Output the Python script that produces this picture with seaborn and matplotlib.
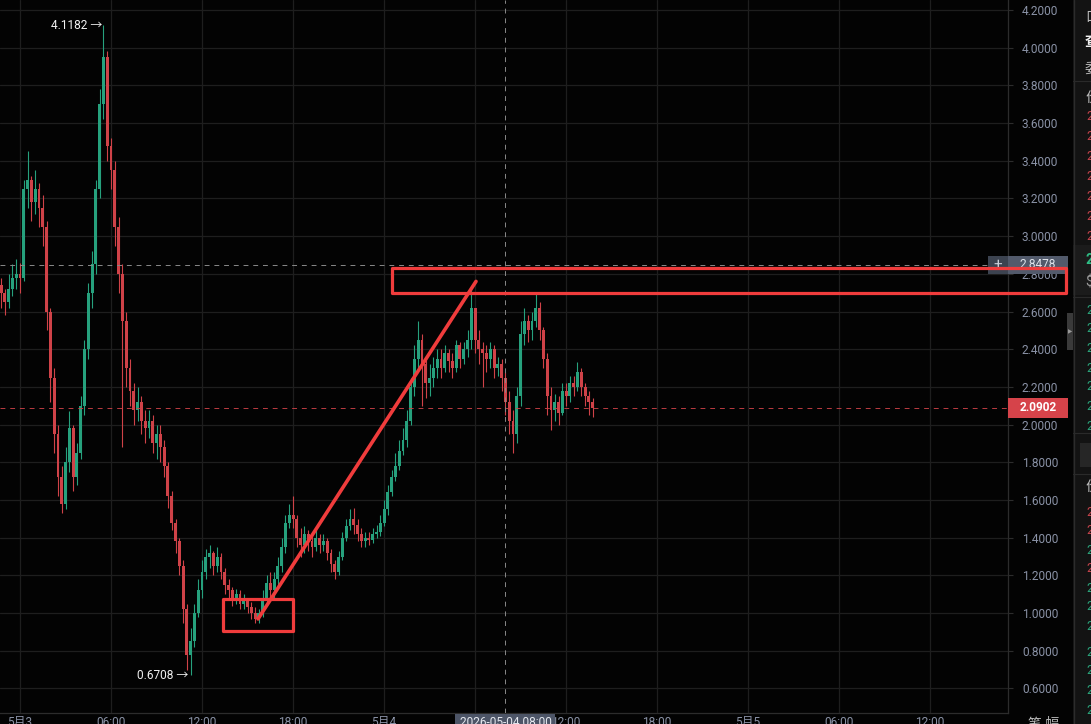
import numpy as np
import matplotlib
matplotlib.use("Agg")
import matplotlib.pyplot as plt
import seaborn as sns
from matplotlib.patches import Rectangle

# 15 minute candles, time in hours from 2026-05-03 00:00
start_hour = -1.25
step_hour = 0.25
first_open = 2.74

closes = [
    2.70, 2.65, 2.72, 2.78, 2.80, 2.78, 3.25, 3.30, 3.18, 3.25,
    3.15, 3.05, 2.60, 2.25, 1.95, 1.72, 1.58, 1.80, 1.98, 1.72,
    1.85, 2.10, 2.40, 2.70, 2.85, 3.25, 3.70, 3.95, 3.48, 3.35,
    3.05, 2.80, 2.55, 2.30, 2.18, 2.08, 2.12, 2.02, 1.98, 2.02,
    1.90, 1.95, 1.88, 1.78, 1.62, 1.48, 1.38, 1.25, 1.02, 0.78,
    0.85, 1.00, 1.12, 1.22, 1.30, 1.32, 1.25, 1.30, 1.22, 1.15,
    1.12, 1.08, 1.10, 1.05, 1.07, 1.03, 1.00, 0.97, 1.00, 1.08,
    1.16, 1.12, 1.18, 1.25, 1.35, 1.48, 1.52, 1.50, 1.40, 1.36,
    1.42, 1.38, 1.35, 1.40, 1.36, 1.38, 1.32, 1.26, 1.22, 1.30,
    1.40, 1.46, 1.50, 1.47, 1.42, 1.38, 1.40, 1.39, 1.42, 1.43,
    1.48, 1.55, 1.64, 1.72, 1.78, 1.86, 1.92, 2.02, 2.20, 2.35,
    2.45, 2.32, 2.22, 2.25, 2.30, 2.35, 2.30, 2.38, 2.34, 2.30,
    2.42, 2.35, 2.40, 2.45, 2.62, 2.45, 2.40, 2.38, 2.35, 2.40,
    2.30, 2.32, 2.25, 2.12, 2.02, 1.95, 2.15, 2.48, 2.55, 2.50,
    2.55, 2.62, 2.50, 2.35, 2.15, 2.08, 2.12, 2.06, 2.18, 2.15,
    2.22, 2.20, 2.28, 2.20, 2.15, 2.12, 2.0902,
]
highs = [
    2.78, 2.72, 2.80, 2.85, 2.88, 2.86, 3.30, 3.45, 3.32, 3.35,
    3.28, 3.22, 3.08, 2.62, 2.30, 2.00, 1.78, 1.88, 2.07, 2.00,
    1.90, 2.15, 2.45, 2.75, 2.92, 3.30, 3.78, 4.1182, 3.98, 3.52,
    3.40, 3.10, 2.85, 2.60, 2.35, 2.22, 2.20, 2.15, 2.08, 2.08,
    2.05, 2.00, 2.00, 1.92, 1.80, 1.65, 1.50, 1.40, 1.28, 1.05,
    0.92, 1.05, 1.18, 1.28, 1.34, 1.36, 1.33, 1.35, 1.32, 1.24,
    1.18, 1.14, 1.13, 1.12, 1.10, 1.08, 1.06, 1.03, 1.02, 1.12,
    1.20, 1.22, 1.22, 1.30, 1.40, 1.52, 1.58, 1.62, 1.52, 1.45,
    1.46, 1.44, 1.42, 1.44, 1.42, 1.42, 1.40, 1.34, 1.28, 1.33,
    1.43, 1.50, 1.55, 1.56, 1.50, 1.45, 1.43, 1.43, 1.45, 1.47,
    1.52, 1.60, 1.68, 1.76, 1.85, 1.92, 1.98, 2.08, 2.25, 2.42,
    2.55, 2.48, 2.36, 2.32, 2.36, 2.40, 2.40, 2.42, 2.40, 2.38,
    2.45, 2.44, 2.44, 2.50, 2.72, 2.62, 2.50, 2.44, 2.42, 2.44,
    2.42, 2.36, 2.35, 2.28, 2.18, 2.08, 2.20, 2.55, 2.62, 2.58,
    2.60, 2.70, 2.65, 2.52, 2.38, 2.20, 2.16, 2.15, 2.22, 2.22,
    2.26, 2.26, 2.33, 2.30, 2.22, 2.18, 2.14,
]
lows = [
    2.62, 2.58, 2.62, 2.68, 2.72, 2.70, 2.76, 3.15, 3.08, 3.12,
    3.05, 2.95, 2.50, 2.12, 1.85, 1.62, 1.53, 1.55, 1.75, 1.65,
    1.68, 1.82, 2.05, 2.35, 2.62, 2.80, 3.20, 3.62, 3.40, 3.25,
    2.95, 2.70, 1.88, 2.20, 2.10, 2.00, 2.02, 1.95, 1.90, 1.93,
    1.85, 1.82, 1.80, 1.72, 1.56, 1.44, 1.32, 1.20, 0.95, 0.70,
    0.6708, 0.82, 0.98, 1.08, 1.18, 1.24, 1.20, 1.22, 1.18, 1.10,
    1.08, 1.04, 1.05, 1.02, 1.02, 1.00, 0.97, 0.95, 0.95, 0.98,
    1.05, 1.08, 1.08, 1.15, 1.22, 1.32, 1.45, 1.45, 1.35, 1.30,
    1.32, 1.33, 1.30, 1.33, 1.32, 1.33, 1.28, 1.22, 1.18, 1.20,
    1.28, 1.38, 1.44, 1.42, 1.38, 1.35, 1.35, 1.36, 1.37, 1.40,
    1.41, 1.46, 1.52, 1.62, 1.70, 1.76, 1.84, 1.88, 2.00, 2.15,
    2.30, 2.10, 2.14, 2.15, 2.20, 2.25, 2.25, 2.28, 2.28, 2.25,
    2.28, 2.30, 2.32, 2.36, 2.40, 2.38, 2.32, 2.20, 2.28, 2.30,
    2.25, 2.26, 2.18, 2.05, 1.95, 1.85, 1.90, 2.10, 2.42, 2.44,
    2.45, 2.52, 2.45, 2.30, 2.05, 1.97, 2.02, 2.00, 2.05, 2.10,
    2.12, 2.15, 2.18, 2.15, 2.10, 2.05, 2.04,
]

price_ticks = [0.6, 0.8, 1.0, 1.2, 1.4, 1.6, 1.8, 2.0, 2.2, 2.4,
               2.6, 2.8, 3.0, 3.2, 3.4, 3.6, 3.8, 4.0, 4.2]
hour_ticks = [0, 6, 12, 18, 24, 30, 36, 42, 48, 54, 60]
# the 06:00 label of 5/4 sits under the crosshair time tag
hour_labels = ['5月3', '06:00', '12:00', '18:00', '5月4', '',
               '12:00', '18:00', '5月5', '06:00', '12:00']

crosshair_hour = 32
crosshair_label = '2026-05-04 08:00'
crosshair_price = 2.8478

# hand drawn red marks
low_box_hours = [13.38, 18.0]
low_box_prices = [0.905, 1.075]
high_box_hours = [24.52, 68.95]
high_box_prices = [2.701, 2.829]
trend_hours = [15.69, 30.06]
trend_prices = [0.969, 2.760]

BG = '#030303'
GRID = '#1e1e1e'
AXIS = '#2c2c2c'
TICK_TXT = '#8a92a6'
UP = '#26a17d'
DOWN = '#cf4248'
MARK = '#f03c3c'

sns.set_theme(style="dark", rc={"axes.facecolor": BG, "figure.facecolor": BG})
plt.rcParams['font.family'] = ['Roboto', 'Noto Sans CJK SC', 'DejaVu Sans']

W, H = 1091, 724
fig = plt.figure(figsize=(W / 100, H / 100), dpi=100)
ax = fig.add_axes([0, 11 / H, 1008 / W, 713 / H])
ax.set_facecolor(BG)

closes = np.array(closes)
opens = np.concatenate([[first_open], closes[:-1]])
hours = start_hour + step_hour * np.arange(len(closes))
top = np.maximum(opens, closes)
bot = np.minimum(opens, closes)
hi = np.maximum(np.array(highs), top)
lo = np.minimum(np.array(lows), bot)
colors = [UP if c >= o else DOWN for o, c in zip(opens, closes)]

ax.vlines(hours, lo, hi, colors=colors, linewidth=0.8, zorder=3)
ax.bar(hours, np.maximum(top - bot, 0.006), bottom=bot, width=0.19,
       color=colors, linewidth=0, zorder=3)

ax.set_xlim(-1.32, 65.13)
ax.set_ylim(0.47, 4.253)

ax.set_xticks(hour_ticks)
ax.set_xticklabels(hour_labels)
ax.set_yticks(price_ticks)
ax.set_yticklabels([f'{p:.4f}' for p in price_ticks])
ax.yaxis.tick_right()
ax.tick_params(axis='y', length=3.5, width=0.8, pad=6.5, color=AXIS,
               labelcolor=TICK_TXT, labelsize=8.6)
ax.tick_params(axis='x', length=0, pad=2.2, labelcolor=TICK_TXT, labelsize=8.6)
ax.grid(True, color=GRID, linewidth=0.9)
ax.set_axisbelow(True)
for side in ['top', 'left']:
    ax.spines[side].set_visible(False)
for side in ['right', 'bottom']:
    ax.spines[side].set_color(AXIS)
    ax.spines[side].set_linewidth(0.9)

# crosshair and last price lines
ax.axhline(crosshair_price, color='#8a8a8a', lw=0.7, ls=(0, (5, 5)), zorder=4)
ax.axvline(crosshair_hour, color='#8a8a8a', lw=0.7, ls=(0, (5, 5)), zorder=4)
last_price = closes[-1]
ax.axhline(last_price, color=DOWN, lw=0.7, ls=(0, (5, 5)), alpha=0.9, zorder=4)

# max / min labels
imax = int(np.argmax(hi))
imin = int(np.argmin(lo))
ax.text(hours[imax] - 0.1, hi[imax], f'{hi[imax]:.4f} →', ha='right', va='center',
        color='#f2f2f2', fontsize=8.6, zorder=6)
ax.text(hours[imin] - 0.15, lo[imin], f'{lo[imin]:.4f} →', ha='right', va='center',
        color='#f2f2f2', fontsize=8.6, zorder=6)

# price tags on the right axis
ytr = ax.get_yaxis_transform()
px = 1 / 1008
tag_h = 18 / 188.2
ax.add_patch(Rectangle((1 - 20 * px, crosshair_price - tag_h / 2), 20 * px, tag_h,
                       transform=ytr, clip_on=False, color='#3c4350', lw=0, zorder=5))
ax.text(1 - 10 * px, crosshair_price, '+', transform=ytr, ha='center', va='center',
        color='#c9ced8', fontsize=11, zorder=6, clip_on=False)
ax.add_patch(Rectangle((1, crosshair_price - tag_h / 2), 60 * px, tag_h,
                       transform=ytr, clip_on=False, color='#525a6b', lw=0, zorder=5))
ax.text(1 + 12 * px, crosshair_price, f'{crosshair_price:.4f}', transform=ytr,
        ha='left', va='center', color='#dfe3ea', fontsize=8.6, zorder=6, clip_on=False)
ax.add_patch(Rectangle((1, last_price - 20 / 188.2 / 2), 60 * px, 20 / 188.2,
                       transform=ytr, clip_on=False, color='#d6434a', lw=0, zorder=5))
ax.text(1 + 12 * px, last_price, f'{last_price:.4f}', transform=ytr, ha='left',
        va='center', color='white', fontsize=8.6, fontweight='bold', zorder=6,
        clip_on=False)

# crosshair time tag at the bottom
xtr = ax.get_xaxis_transform()
ax.add_patch(Rectangle((crosshair_hour - 3.3, -0.03), 6.6, 0.0285, transform=xtr,
                       clip_on=False, color='#4d5567', lw=0, zorder=5))
ax.text(crosshair_hour, -0.0045, crosshair_label, transform=xtr, ha='center',
        va='top', color='#e4e7ee', fontsize=8.6, zorder=6, clip_on=False)

# collapse handle
ax.add_patch(Rectangle((1067 * px, 0.509), 6 * px, 0.052, transform=ax.transAxes,
                       clip_on=False, color='#3a3a3a', lw=0, zorder=5))
ax.text(1070 * px, 0.535, '▶', transform=ax.transAxes, ha='center', va='center',
        color='#9a9a9a', fontsize=4, zorder=6, clip_on=False, family='DejaVu Sans')

# red hand drawn annotations
ax.add_patch(Rectangle((low_box_hours[0], low_box_prices[0]),
                       low_box_hours[1] - low_box_hours[0],
                       low_box_prices[1] - low_box_prices[0],
                       fill=False, ec=MARK, lw=2.3, joinstyle='round', zorder=8))
ax.add_patch(Rectangle((high_box_hours[0], high_box_prices[0]),
                       high_box_hours[1] - high_box_hours[0],
                       high_box_prices[1] - high_box_prices[0],
                       fill=False, ec=MARK, lw=2.3, joinstyle='round', zorder=8,
                       clip_on=False))
ax.plot(trend_hours, trend_prices, color=MARK, lw=2.6, solid_capstyle='round',
        zorder=8)

# cut off order book panel on the right
pan = fig.add_axes([1073 / W, 0, 18 / W, 1])
pan.set_facecolor('#131313')
pan.set_xlim(1073, 1091)
pan.set_ylim(H, 0)
pan.axis('off')
pan.add_patch(Rectangle((1073, 0), 18, H, color='#131313', lw=0))
pan.axvline(1073.5, color='#2c2c2c', lw=1)
for yy in [81, 297, 433, 474]:
    pan.axhline(yy, color='#2a2a2a', lw=0.8)
pan.add_patch(Rectangle((1073, 245), 18, 50, color='#1b1b1b', lw=0))
pan.add_patch(Rectangle((1080, 443), 11, 24, color='#262626', lw=0))

panel_heads = [(17, '口', '#bdbdbd', 'normal'), (42, '查', '#f0f0f0', 'bold'),
               (70, '委', '#bdbdbd', 'normal'), (98, '价', '#bdbdbd', 'normal'),
               (260, '2', '#2ebd85', 'bold'), (283, '$', '#9a9a9a', 'normal'),
               (487, '价', '#bdbdbd', 'normal')]
for yy, ch, col, wt in panel_heads:
    pan.text(1085, yy, ch, ha='left', va='center', color=col, fontsize=10,
             fontweight=wt, clip_on=False)
red_rows = [117, 137, 156, 176, 196, 216, 236, 512, 530, 568]
green_rows = [310, 329, 348, 368, 387, 407, 426, 550, 588, 607, 627, 652, 670, 690, 710]
for yy in red_rows:
    pan.text(1086, yy, '2', ha='left', va='center', color='#c6434b', fontsize=9,
             clip_on=False)
for yy in green_rows:
    pan.text(1086, yy, '2', ha='left', va='center', color='#2aa57c', fontsize=9,
             clip_on=False)

fig.text(1028 / W, 1 - 717 / H, '笔 幅', ha='left', va='top', color='#bdbdbd',
         fontsize=10)

fig.savefig('out.png', dpi=100, facecolor=BG)
